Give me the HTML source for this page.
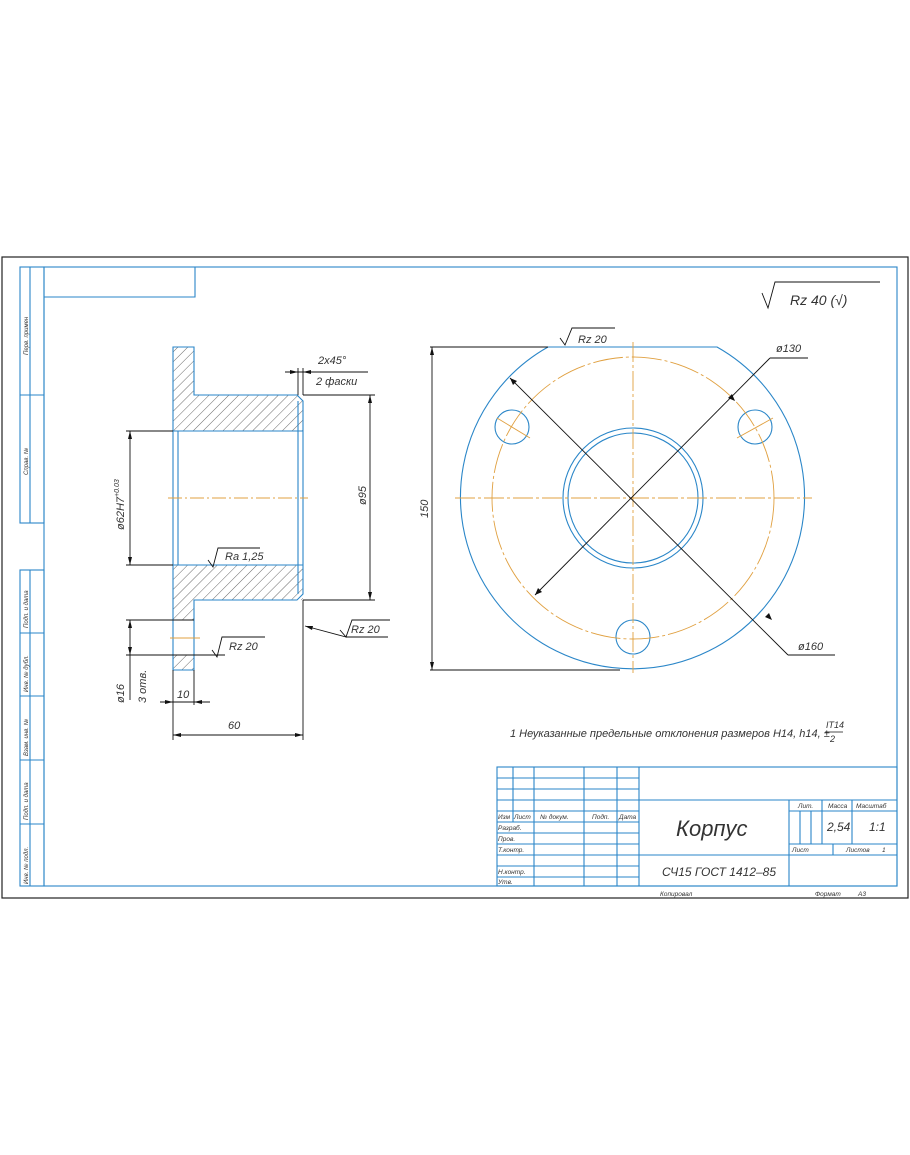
<!DOCTYPE html>
<html><head><meta charset="utf-8"><style>
html,body{margin:0;padding:0;background:#fff}
svg{display:block}
text{font-family:"Liberation Sans","DejaVu Sans",sans-serif;font-style:italic;fill:#333}
</style></head><body>
<svg width="910" height="1155" viewBox="0 0 910 1155" xmlns="http://www.w3.org/2000/svg">
<defs>
<pattern id="h" width="7" height="7" patternUnits="userSpaceOnUse" patternTransform="rotate(45)">
<line x1="0" y1="0" x2="0" y2="7" stroke="#444" stroke-width="0.8"/>
</pattern>
</defs>
<rect x="2" y="257" width="906" height="641" fill="none" stroke="#222" stroke-width="1.2"/>
<g fill="none" stroke="#2a86c8" stroke-width="1.1">
<rect x="44" y="267" width="853" height="619"/>
<rect x="20" y="267" width="24" height="256"/>
<line x1="30" y1="267" x2="30" y2="523"/>
<line x1="20" y1="395" x2="44" y2="395"/>
<rect x="20" y="570" width="24" height="316"/>
<line x1="30" y1="570" x2="30" y2="886"/>
<line x1="20" y1="633" x2="44" y2="633"/>
<line x1="20" y1="696" x2="44" y2="696"/>
<line x1="20" y1="760" x2="44" y2="760"/>
<line x1="20" y1="824" x2="44" y2="824"/>
<polyline points="44,297 195,297 195,267"/>
</g>
<g font-size="6">
<text transform="translate(28,355) rotate(-90)">Перв. примен</text>
<text transform="translate(28,475) rotate(-90)">Справ. №</text>
<text transform="translate(28,628) rotate(-90)">Подп. и дата</text>
<text transform="translate(28,692) rotate(-90)">Инв. № дубл.</text>
<text transform="translate(28,756) rotate(-90)">Взам. инв. №</text>
<text transform="translate(28,820) rotate(-90)">Подп. и дата</text>
<text transform="translate(28,884) rotate(-90)">Инв. № подл.</text>
</g>

<!-- Section view -->
<path d="M173,347 H194 V395 H303 V431 H173 Z" fill="url(#h)"/>
<path d="M173,565 H303 V600 H194 V620 H173 Z" fill="url(#h)"/>
<rect x="173" y="655" width="21" height="15" fill="url(#h)"/>
<g fill="none" stroke="#2a86c8" stroke-width="1.1">
<path d="M173,347 H194 V395 H297 L303,401 V594 L297,600 H194 V670 H173 Z"/>
<line x1="173" y1="431" x2="303" y2="431"/>
<line x1="173" y1="565" x2="303" y2="565"/>
<line x1="178" y1="431" x2="178" y2="565"/>
<line x1="298" y1="401" x2="298" y2="594"/>
<line x1="173" y1="620" x2="194" y2="620"/>
<line x1="173" y1="655" x2="194" y2="655"/>
</g>
<line x1="168" y1="498" x2="308" y2="498" stroke="#e0a040" stroke-dasharray="14,3,2,3"/>
<line x1="170" y1="638" x2="200" y2="638" stroke="#e0a040"/>
<g stroke="#111" stroke-width="0.9" fill="none">
<line x1="126" y1="431" x2="173" y2="431"/><line x1="126" y1="565" x2="173" y2="565"/>
<line x1="130" y1="431" x2="130" y2="565"/>
<line x1="303" y1="395" x2="375" y2="395"/><line x1="303" y1="600" x2="375" y2="600"/>
<line x1="370" y1="395" x2="370" y2="600"/>
<line x1="126" y1="620" x2="194" y2="620"/><line x1="126" y1="655" x2="225" y2="655"/>
<line x1="130" y1="620" x2="130" y2="700"/>
<line x1="173" y1="670" x2="173" y2="740"/><line x1="194" y1="670" x2="194" y2="705"/>
<line x1="160" y1="702" x2="210" y2="702"/>
<line x1="303" y1="600" x2="303" y2="740"/>
<line x1="173" y1="735" x2="303" y2="735"/>
<line x1="298" y1="368" x2="298" y2="395"/><line x1="303" y1="368" x2="303" y2="395"/>
<line x1="285" y1="372" x2="368" y2="372"/>
<line x1="114" y1="702" x2="114" y2="702"/>
<polyline points="208,560 213,567 218,548 260,548"/>
<polyline points="212,650 217,657 222,637 265,637"/>
<polyline points="340,630 346,637 352,620 390,620"/>
<line x1="346" y1="637" x2="388" y2="637"/>
<line x1="346" y1="637" x2="305" y2="626"/>
</g>
<g fill="#111">
<path d="M130,431 l-2,8 h4z M130,565 l-2,-8 h4z M370,395 l-2,8 h4z M370,600 l-2,-8 h4z M130,620 l-2,8 h4z M130,655 l-2,-8 h4z M173,702 l-8,-2 v4z M194,702 l8,-2 v4z M173,735 l8,-2 v4z M303,735 l-8,-2 v4z M298,372 l-8,-2 v4z M303,372 l8,-2 v4z M305,626 l8,0 l-1,4z"/>
</g>
<g font-size="11">
<text transform="translate(124,530) rotate(-90)">ø62H7<tspan font-size="7" dy="-5">+0.03</tspan></text>
<text transform="translate(366,505) rotate(-90)">ø95</text>
<text transform="translate(124,703) rotate(-90)">ø16</text>
<text transform="translate(146,703) rotate(-90)">3 отв.</text>
<text x="177" y="698">10</text>
<text x="228" y="729">60</text>
<text x="318" y="364">2х45°</text>
<text x="316" y="385">2 фаски</text>
<text x="225" y="560">Ra 1,25</text>
<text x="229" y="650">Rz 20</text>
<text x="351" y="633">Rz 20</text>
</g>

<!-- Plan view -->
<g fill="none" stroke="#2a86c8" stroke-width="1.1">
<path d="M548,347 A172,172 0 1 0 717,347 Z"/>
<circle cx="633" cy="498" r="70"/>
<circle cx="633" cy="498" r="65"/>
<circle cx="512" cy="427" r="17"/>
<circle cx="755" cy="427" r="17"/>
<circle cx="633" cy="637" r="17"/>
</g>
<g stroke="#e0a040" fill="none" stroke-width="0.9">
<circle cx="633" cy="498" r="141" stroke-dasharray="30,3,3,3"/>
<line x1="455" y1="498" x2="812" y2="498" stroke-dasharray="20,3,3,3"/>
<line x1="633" y1="342" x2="633" y2="673" stroke-dasharray="20,3,3,3"/>
<line x1="497" y1="418" x2="530" y2="438"/>
<line x1="737" y1="438" x2="773" y2="418"/>
</g>
<g stroke="#111" stroke-width="0.9" fill="none">
<line x1="430" y1="347" x2="548" y2="347"/>
<line x1="430" y1="670" x2="620" y2="670"/>
<line x1="432" y1="347" x2="432" y2="670"/>
<line x1="510" y1="378" x2="788" y2="655"/>
<polyline points="788,655 798,655 835,655"/>
<line x1="535" y1="595" x2="770" y2="358"/>
<line x1="770" y1="358" x2="808" y2="358"/>
<polyline points="560,338 565,345 572,328 615,328"/>
<polyline points="762,293 768,308 775,282 880,282"/>
</g>
<g fill="#111">
<path d="M432,347 l-2,8 h4z M432,670 l-2,-8 h4z M510,378 l3,7 l4,-4z M735,401 l-3,-7 l-4,4z M535,595 l3,-7 l4,4z M772,620 l-7,-3 l4,-4z"/>
</g>
<g font-size="11">
<text transform="translate(428,518) rotate(-90)">150</text>
<text x="578" y="343">Rz 20</text>
<text x="776" y="352">ø130</text>
<text x="798" y="650">ø160</text>
<text x="790" y="305" font-size="14">Rz 40 (√)</text>
<text x="510" y="737" font-size="11">1 Неуказанные предельные отклонения размеров H14, h14, ±</text>
<text x="826" y="728" font-size="9">IT14</text>
<line x1="825" y1="732" x2="843" y2="732" stroke="#111" stroke-width="0.8"/>
<text x="830" y="742" font-size="9">2</text>
</g>

<!-- Title block -->
<g fill="none" stroke="#2a86c8" stroke-width="1.1">
<rect x="497" y="767" width="400" height="119"/>
<line x1="497" y1="778" x2="639" y2="778"/>
<line x1="497" y1="789" x2="639" y2="789"/>
<line x1="497" y1="800" x2="897" y2="800"/>
<line x1="497" y1="811" x2="639" y2="811"/>
<line x1="497" y1="822" x2="639" y2="822"/>
<line x1="497" y1="833" x2="639" y2="833"/>
<line x1="497" y1="844" x2="639" y2="844"/>
<line x1="497" y1="855" x2="897" y2="855"/>
<line x1="497" y1="866" x2="639" y2="866"/>
<line x1="497" y1="877" x2="639" y2="877"/>
<line x1="513" y1="767" x2="513" y2="822"/>
<line x1="534" y1="767" x2="534" y2="886"/>
<line x1="584" y1="767" x2="584" y2="886"/>
<line x1="617" y1="767" x2="617" y2="886"/>
<line x1="639" y1="767" x2="639" y2="886"/>
<line x1="789" y1="800" x2="789" y2="886"/>
<line x1="789" y1="811" x2="897" y2="811"/>
<line x1="789" y1="844" x2="897" y2="844"/>
<line x1="822" y1="800" x2="822" y2="844"/>
<line x1="852" y1="800" x2="852" y2="844"/>
<line x1="800" y1="811" x2="800" y2="844"/>
<line x1="811" y1="811" x2="811" y2="844"/>
<line x1="833" y1="844" x2="833" y2="855"/>
</g>
<g font-size="6.5">
<text x="498" y="819">Изм</text><text x="514" y="819">Лист</text><text x="540" y="819">№ докум.</text><text x="592" y="819">Подп.</text><text x="619" y="819">Дата</text>
<text x="498" y="830">Разраб.</text><text x="498" y="841">Пров.</text><text x="498" y="852">Т.контр.</text>
<text x="498" y="874">Н.контр.</text><text x="498" y="884">Утв.</text>
<text x="798" y="808">Лит.</text><text x="828" y="808">Масса</text><text x="856" y="808">Масштаб</text>
<text x="792" y="852">Лист</text><text x="846" y="852">Листов</text><text x="882" y="852">1</text>
<text x="660" y="896">Копировал</text><text x="815" y="896">Формат</text><text x="858" y="896">А3</text>
</g>
<text x="676" y="836" font-size="22">Корпус</text>
<text x="662" y="876" font-size="12">СЧ15 ГОСТ 1412–85</text>
<text x="827" y="831" font-size="12">2,54</text>
<text x="869" y="831" font-size="12">1:1</text>
</svg>
</body></html>
